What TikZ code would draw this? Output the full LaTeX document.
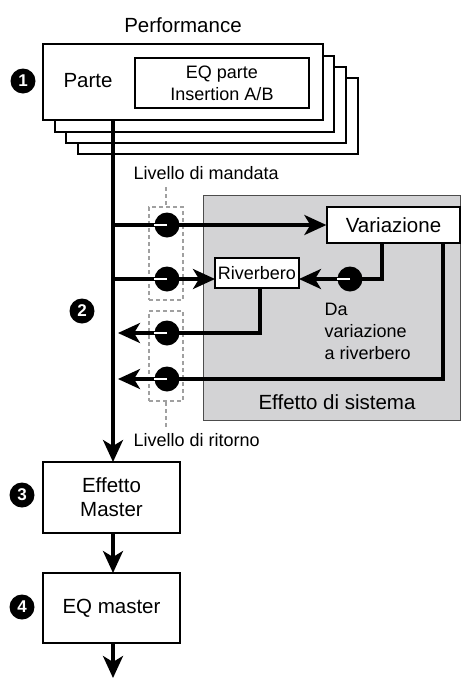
\documentclass[tikz,border=0pt]{standalone}
\usepackage{fontspec}
\setmainfont{Liberation Sans}
\usetikzlibrary{arrows.meta}
\definecolor{sysgrey}{HTML}{D3D3D5}
\definecolor{dashgrey}{HTML}{A0A0A0}
\begin{document}
\begin{tikzpicture}[x=1pt,y=-1pt,
  box/.style={draw=black,line width=1.3pt,fill=white,inner sep=0pt,align=center},
  big/.style={font=\fontsize{20.5}{24}\selectfont},
  small/.style={font=\fontsize{18}{22}\selectfont},
  flow/.style={line width=3.4pt,-{Stealth[length=22pt,width=20pt,inset=6pt]}},
  knob/.style={circle,fill=black,minimum size=25pt,inner sep=0pt},
  bullet/.style={circle,fill=black,minimum size=25pt,inner sep=0pt,text=white,font=\fontsize{17}{17}\selectfont\bfseries},
  dbox/.style={draw=dashgrey,line width=1.6pt,dash pattern=on 4pt off 3pt},
  knobmark/.style={draw=white,line width=1.8pt}
]
\useasboundingbox (0,0) rectangle (461,678);

% title
\node[big] (perf) at (183,25) {Performance};

% stacked part boxes
\node[box,minimum width=280pt,minimum height=76pt] (p4) at (218,116) {};
\node[box,minimum width=280pt,minimum height=76pt] (p3) at (206,105) {};
\node[box,minimum width=279pt,minimum height=76pt] (p2) at (194.5,94) {};
\node[box,minimum width=280pt,minimum height=76pt] (p1) at (183,82) {};
\node[big] (parte) at (88,81) {Parte};
\node[box,small,minimum width=174pt,minimum height=50pt] (eq) at (222,83) {EQ parte\\Insertion A/B};
\node[bullet] (b1) at (23,81) {1};

% system effect area
\node[draw=black!70,line width=0.8pt,fill=sysgrey,minimum width=257pt,minimum height=225pt,inner sep=0pt] (sys) at (331.5,307.5) {};
\node[big] (sysl) at (337,402) {Effetto di sistema};

% dashed level boxes
\node[dbox,minimum width=34pt,minimum height=93pt,inner sep=0pt] (send) at (166,253.5) {};
\node[dbox,minimum width=34pt,minimum height=90pt,inner sep=0pt] (ret) at (166,356) {};
\coordinate (sendtop) at (166,187);
\coordinate (retbot) at (166,428);
\draw[dbox] (sendtop) -- (send.north);
\draw[dbox] (ret.south) -- (retbot);
\node[small,anchor=west] (lsend) at (130,173) {Livello di mandata};
\node[small,anchor=west] (lret) at (130,440) {Livello di ritorno};

% effect boxes
\node[box,big,minimum width=133pt,minimum height=36pt] (var) at (393.5,225) {Variazione};
\node[box,small,minimum width=84pt,minimum height=30pt] (riv) at (257,273) {Riverbero};

% master boxes
\node[box,big,minimum width=137pt,minimum height=71pt] (mfx) at (111.5,497.5) {Effetto\\Master};
\node[box,big,minimum width=137pt,minimum height=70pt] (meq) at (111.5,608) {EQ master};
\node[bullet] (b2) at (82,311) {2};
\node[bullet] (b3) at (22,495) {3};
\node[bullet] (b4) at (22,607) {4};

% coordinates
\coordinate (mtop) at (113,120);
\coordinate (mend) at (113,462);
\coordinate (s1) at (113,225);
\coordinate (s2) at (113,279);
\coordinate (r1) at (118,333);
\coordinate (r2) at (118,379);
\coordinate (rivin) at (215,279);
\coordinate (rivout) at (299,279);
\coordinate (va) at (382,243);
\coordinate (vb) at (443,243);
\coordinate (rb) at (260,288);
\coordinate (m2) at (113,533);
\coordinate (m3) at (113,573);
\coordinate (m4) at (113,643);
\coordinate (mout) at (113,678);

% main bus
\draw[flow] (mtop) -- (mend);
\draw[flow] (m2) -- (m3);
\draw[flow] (m4) -- (mout);

% sends
\draw[flow] (s1) -- (var.west);
\draw[flow] (s2) -- (rivin);
% variation to reverb
\draw[flow] (va) -- (382,279) -- (rivout);
% returns
\draw[flow] (rb) -- (260,333) -- (r1);
\draw[flow] (vb) -- (443,379) -- (r2);

% knobs
\foreach \n/\x/\y in {k1/167/225,k2/167/279,k3/167/333,k4/167/379,k5/350/279}{
  \node[knob] (\n) at (\x,\y) {};
  \draw[knobmark] (\n.center) -- (\n.west);
}

% small labels
\node[small,anchor=north west,align=left] (vr) at (321,300) {Da\\variazione\\a riverbero};
\end{tikzpicture}
\end{document}
